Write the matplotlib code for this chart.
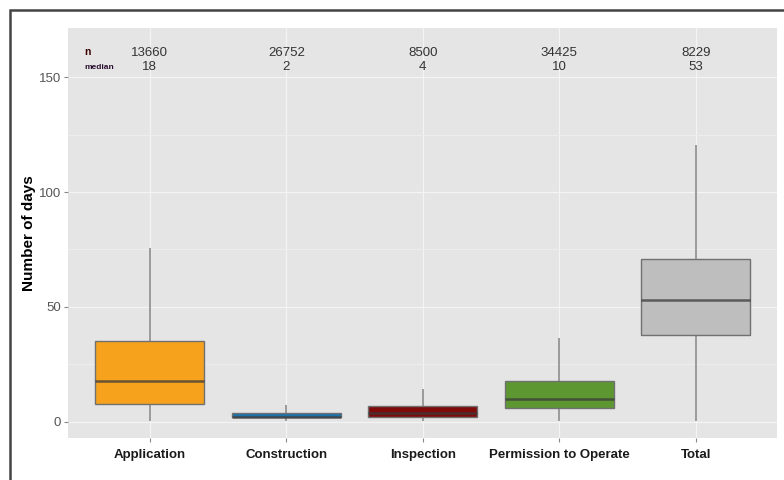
import matplotlib.pyplot as plt
from matplotlib.patches import Rectangle

plt.rcParams['font.family'] = ['Liberation Sans', 'DejaVu Sans']

# Summary stats
categories = ['Application', 'Construction', 'Inspection', 'Permission to Operate', 'Total']
counts = [13660, 26752, 8500, 34425, 8229]
medians = [18, 2, 4, 10, 53]
q1 = [8, 2, 2, 6, 38]
q3 = [35, 4, 7, 18, 71]
whisk_lo = [1, 1, 1, 1, 1]
whisk_hi = [75, 7, 14, 36, 120]
colors = ['#F6A21D', '#1C72AA', '#7E0A0A', '#5C9732', '#BEBEBE']

stats = []
for i in range(len(categories)):
    stats.append(dict(label=categories[i], med=medians[i], q1=q1[i], q3=q3[i],
                      whislo=whisk_lo[i], whishi=whisk_hi[i], fliers=[]))

fig = plt.figure(figsize=(7.84, 4.8), dpi=100)
ax = fig.add_axes([0.0867, 0.0875, 0.905, 0.854])
ax.set_facecolor('#E5E5E5')

pos = list(range(1, len(categories) + 1))
bp = ax.bxp(stats, positions=pos, widths=0.8, patch_artist=True, showcaps=False,
            boxprops=dict(edgecolor='#707070', linewidth=1.0),
            whiskerprops=dict(color='#9a9a9a', linewidth=1.4),
            medianprops=dict(color='#3a3a3a', alpha=0.75, linewidth=1.8))
for patch, c in zip(bp['boxes'], colors):
    patch.set_facecolor(c)
    patch.set_zorder(3)
for line in bp['medians']:
    line.set_zorder(4)

# grid like ggplot
ax.set_yticks([0, 50, 100, 150])
ax.set_yticks([25, 75, 125], minor=True)
ax.grid(True, which='major', color='#F4F4F4', linewidth=0.9, zorder=0)
ax.grid(True, which='minor', axis='y', color='#EEEEEE', linewidth=0.7, zorder=0)
ax.set_axisbelow(True)
for s in ax.spines.values():
    s.set_visible(False)

ax.set_xlim(0.4, 5.6)
ax.set_ylim(-7, 171.3)
ax.set_xticks(pos)
ax.set_xticklabels(categories, fontweight='bold', fontsize=9.5)
ax.tick_params(axis='y', labelsize=9.5, labelcolor='#555555', color='#888888', length=3, pad=2)
ax.tick_params(axis='y', which='minor', length=0)
ax.tick_params(axis='x', labelcolor='#1a1a1a', color='#888888', length=3, pad=5)
ax.set_ylabel('Number of days', fontweight='bold', fontsize=11, labelpad=2)

# n / median annotations
for p, n, m in zip(pos, counts, medians):
    ax.text(p, 160.5, str(n), ha='center', va='center', fontsize=9.5, color='#333333')
    ax.text(p, 154.5, str(m), ha='center', va='center', fontsize=9.5, color='#333333')
ax.text(0.52, 161, 'n', ha='left', va='center', fontsize=7.5, fontweight='bold', color='#3a0000')
ax.text(0.52, 154, 'median', ha='left', va='center', fontsize=6, fontweight='bold', color='#2a1030')

# outer frame from the screenshot
fig.patches.append(Rectangle((10 / 784, -0.1), 1.2, 1.1 - 10 / 480,
                             transform=fig.transFigure, fill=False,
                             edgecolor='#444444', linewidth=1.8))

fig.savefig('out.png', dpi=100)
